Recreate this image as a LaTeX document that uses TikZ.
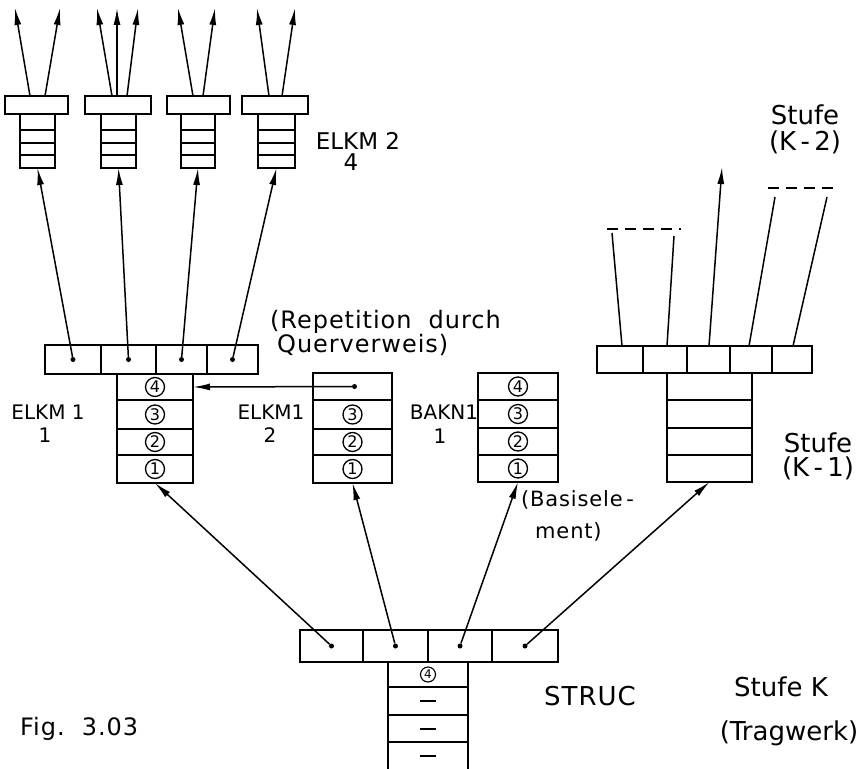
\documentclass[tikz,border=0pt]{standalone}
\usepackage{fontspec}
\setmainfont{DejaVu Sans}
\newfontfamily\spaced[LetterSpace=4]{DejaVu Sans}
\usetikzlibrary{arrows.meta,calc}
\newcommand{\mkcell}[5]{\node[cell, minimum width={#4-#2}, minimum height={#5-#3}] (#1) at ({(#2+#4)/2},{(#3+#5)/2}) {};}
\newcommand{\fs}[1]{\fontsize{#1}{#1}\selectfont}
\tikzset{
  cell/.style={draw, line width=2pt, inner sep=0pt, outer sep=0pt},
  arr/.style={-{Latex[length=17pt,width=7pt]}, line width=1.5pt},
  ln/.style={line width=1.5pt},
  dashln/.style={line width=1.5pt, dash pattern=on 11pt off 7pt},
  pdot/.style={circle, fill, inner sep=0pt, minimum size=5pt},
  cnum/.style={circle, draw, line width=1.3pt, inner sep=0pt, minimum size=19pt, font=\fs{16}},
  lbl/.style={inner sep=0pt, font=\fs{20}},
  big/.style={inner sep=0pt, font=\fs{26}},
  mid/.style={inner sep=0pt, font=\spaced\fs{24}}
}
\begin{document}
\begin{tikzpicture}[x=1pt,y=-1pt]
\useasboundingbox (0,0) rectangle (867,768);
% ---- top row boxes
\foreach \n/\a/\b/\c/\d in {1/5/68/20/55, 2/85/151/101/136, 3/167/230/181/215, 4/242/308/258/295}{
  \mkcell{tb\n}{\a}{96}{\b}{114}
  \mkcell{ts\n a}{\c}{114}{\d}{130}
  \mkcell{ts\n b}{\c}{130}{\d}{143}
  \mkcell{ts\n c}{\c}{143}{\d}{155}
  \mkcell{ts\n d}{\c}{155}{\d}{168}
}
% tips of top arrows
\coordinate (u11) at (15,8);  \coordinate (u12) at (60,8);
\coordinate (u21) at (97,8);  \coordinate (u22) at (117,8); \coordinate (u23) at (138,8);
\coordinate (u31) at (178,8); \coordinate (u32) at (215,8);
\coordinate (u41) at (257,8); \coordinate (u42) at (295,8);
\draw[arr] ([xshift=-6.5]tb1.north) -- (u11);
\draw[arr] ([xshift=8.5]tb1.north) -- (u12);
\draw[arr] ([xshift=-6]tb2.north) -- (u21);
\draw[arr] ([xshift=-1]tb2.north) -- (u22);
\draw[arr] ([xshift=9]tb2.north) -- (u23);
\draw[arr] ([xshift=-5.5]tb3.north) -- (u31);
\draw[arr] ([xshift=4.5]tb3.north) -- (u32);
\draw[arr] ([xshift=-6]tb4.north) -- (u41);
\draw[arr] ([xshift=7]tb4.north) -- (u42);
% ---- middle ELKM1 1
\mkcell{m1}{45}{345}{101}{374}
\mkcell{m2}{101}{345}{156}{374}
\mkcell{m3}{156}{345}{207}{374}
\mkcell{m4}{207}{345}{258}{374}
\mkcell{e1a}{117}{374}{193}{400}
\mkcell{e1b}{117}{400}{193}{429}
\mkcell{e1c}{117}{429}{193}{455}
\mkcell{e1d}{117}{455}{193}{483}
\foreach \i in {1,...,4}{\node[pdot] (md\i) at (m\i.center) {};}
\draw[arr] (md1) -- (ts1d.south);
\draw[arr] (md2) -- (ts2d.south);
\draw[arr] (md3) -- (ts3d.south);
\draw[arr] (md4) -- (ts4d.south);
\node[cnum] (e1n4) at (e1a) {4};
\node[cnum] (e1n3) at (e1b) {3};
\node[cnum] (e1n2) at (e1c) {2};
\node[cnum] (e1n1) at (e1d) {1};
% ---- ELKM1 2
\mkcell{e2a}{313}{373}{392}{400}
\mkcell{e2b}{313}{400}{392}{429}
\mkcell{e2c}{313}{429}{392}{455}
\mkcell{e2d}{313}{455}{392}{483}
\node[pdot] (e2dot) at ([xshift=2]e2a.center) {};
\draw[arr] (e2dot) -- (e1a.east);
\node[cnum] (e2n3) at (e2b) {3};
\node[cnum] (e2n2) at (e2c) {2};
\node[cnum] (e2n1) at (e2d) {1};
% ---- BAKN1 1
\mkcell{b1a}{478}{373}{558}{400}
\mkcell{b1b}{478}{400}{558}{428}
\mkcell{b1c}{478}{428}{558}{455}
\mkcell{b1d}{478}{455}{558}{482}
\node[cnum] (b1n4) at (b1a) {4};
\node[cnum] (b1n3) at (b1b) {3};
\node[cnum] (b1n2) at (b1c) {2};
\node[cnum] (b1n1) at (b1d) {1};
% ---- right structure
\mkcell{r1}{597}{346}{643}{373}
\mkcell{r2}{643}{346}{687}{373}
\mkcell{r3}{687}{346}{730}{373}
\mkcell{r4}{730}{346}{772}{373}
\mkcell{r5}{772}{346}{812}{373}
\mkcell{rsa}{667}{373}{752}{400}
\mkcell{rsb}{667}{400}{752}{428}
\mkcell{rsc}{667}{428}{752}{455}
\mkcell{rsd}{667}{455}{752}{482}
\coordinate (p1) at (612,233); \coordinate (p2) at (674,236);
\coordinate (p3) at (722,167);
\coordinate (p4) at (775,197); \coordinate (p5) at (827,197);
\coordinate (q1) at (607,229); \coordinate (q2) at (681,229);
\coordinate (q3) at (768,188); \coordinate (q4) at (836,188);
\draw[ln] ([xshift=2]r1.north) -- (p1);
\draw[ln] ([xshift=2]r2.north) -- (p2);
\draw[arr] ([xshift=0.5]r3.north) -- (p3);
\draw[ln] ([xshift=-2]r4.north) -- (p4);
\draw[ln] ([xshift=1]r5.north) -- (p5);
\draw[dashln] (q1) -- (q2);
\draw[dashln] (q3) -- (q4);
% ---- STRUC
\mkcell{s1}{300}{630}{363}{662}
\mkcell{s2}{363}{630}{428}{662}
\mkcell{s3}{428}{630}{492}{662}
\mkcell{s4}{492}{630}{558}{662}
\mkcell{ssa}{388}{662}{468}{687}
\mkcell{ssb}{388}{687}{468}{715}
\mkcell{ssc}{388}{715}{468}{742}
\draw[line width=2pt] (ssc.south west) -- ++(0,30);
\draw[line width=2pt] (ssc.south east) -- ++(0,30);
\node[cnum, minimum size=15pt, line width=1.1pt, font=\fs{12}] (ssn4) at (ssa) {4};
\coordinate (ssd) at (428,756);
\draw[line width=2pt] ([xshift=-8]ssb.center) -- ([xshift=8]ssb.center);
\draw[line width=2pt] ([xshift=-8]ssc.center) -- ([xshift=8]ssc.center);
\draw[line width=2pt] ([xshift=-8]ssd) -- ([xshift=8]ssd);
\foreach \i in {1,...,4}{\node[pdot] (sd\i) at (s\i.center) {};}
\draw[arr] (sd1) -- (e1d.south);
\draw[arr] (sd2) -- (e2d.south);
\draw[arr] (sd3) -- (b1d.south);
\draw[arr] (sd4) -- (rsd.south);
% ---- labels
\node[lbl, font=\fs{23}] (lk2) at (358,141) {ELKM 2};
\node[lbl, font=\fs{23}] (lk2n) at (351,162) {4};
\node[lbl] (lk1) at (48,412) {ELKM 1};
\node[lbl] (lk1n) at (45,435) {1};
\node[lbl] (lk12) at (271,412) {ELKM1};
\node[lbl] (lk12n) at (270,435) {2};
\node[lbl] (lbk) at (444,412) {BAKN1};
\node[lbl] (lbkn) at (440,436) {1};
\node[mid, anchor=west] (rep1) at (270,322) {(Repetition\ \ durch};
\node[mid, anchor=west] (rep2) at (277,345) {Querverweis)};
\node[big] (st2) at (805,115) {Stufe};
\node[big] (st2b) at (805,142) {(K\,-\,2)};
\node[big] (st1) at (818,443) {Stufe};
\node[big] (st1b) at (818,468) {(K\,-\,1)};
\node[mid, font=\spaced\fs{21}, anchor=west] (bas1) at (521,500) {(Basisele\,-};
\node[mid, font=\spaced\fs{21}, anchor=west] (bas2) at (535,532) {ment)};
\node[big, font=\spaced\fs{26}] (struc) at (590,696) {STRUC};
\node[big] (stk) at (781,687) {Stufe K};
\node[big] (trag) at (789,733) {(Tragwerk)};
\node[mid, anchor=west] (fig) at (20,729) {Fig.\ \ 3.03};
\end{tikzpicture}
\end{document}
